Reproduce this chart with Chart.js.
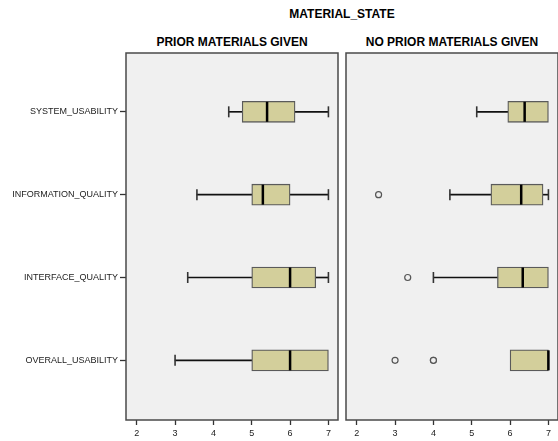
<!DOCTYPE html>
<html>
<head>
<meta charset="utf-8">
<script src="https://cdn.jsdelivr.net/npm/chart.js@4.4.1/dist/chart.umd.min.js"></script>
<style>
  html, body { margin: 0; padding: 0; background: #fff; }
  body { width: 558px; height: 441px; position: relative; overflow: hidden; font-family: "Liberation Sans", Arial, sans-serif; }
  .title { position: absolute; font-weight: bold; font-size: 12px; color: #000; text-align: center; white-space: nowrap; line-height: 14px; }
  #leftWrap { position: absolute; left: 0; top: 0; width: 340px; height: 441px; }
  #rightWrap { position: absolute; left: 340px; top: 0; width: 220px; height: 441px; }
</style>
</head>
<body>
<div class="title" style="left:126px; width:432px; top:7px;">MATERIAL_STATE</div>
<div class="title" style="left:126px; width:212px; top:35px;">PRIOR MATERIALS GIVEN</div>
<div class="title" style="left:346px; width:212px; top:35px;">NO PRIOR MATERIALS GIVEN</div>
<div id="leftWrap"><canvas id="leftChart"></canvas></div>
<div id="rightWrap"><canvas id="rightChart"></canvas></div>
<script>
// ─── Data ─────────────────────────────────────────────────────────────────────
const categories = ['SYSTEM_USABILITY', 'INFORMATION_QUALITY', 'INTERFACE_QUALITY', 'OVERALL_USABILITY'];
const xTicks = [2, 3, 4, 5, 6, 7];

// PRIOR MATERIALS GIVEN
const priorMin = [4.4, 3.57, 3.33, 3.0];
const priorQ1  = [4.75, 5.0, 5.0, 5.0];
const priorMed = [5.4, 5.29, 6.0, 6.0];
const priorQ3  = [6.13, 6.0, 6.67, 7.0];
const priorMax = [7.0, 7.0, 7.0, 7.0];
const priorOutCat = [];
const priorOutVal = [];

// NO PRIOR MATERIALS GIVEN
const noPriorMin = [5.13, 4.43, 4.0, 6.0];
const noPriorQ1  = [5.94, 5.5, 5.67, 6.0];
const noPriorMed = [6.38, 6.29, 6.33, 7.0];
const noPriorQ3  = [7.0, 6.86, 7.0, 7.0];
const noPriorMax = [7.0, 7.0, 7.0, 7.0];
const noPriorOutCat = [1, 2, 3, 3, 3];
const noPriorOutVal = [2.57, 3.33, 3.0, 4.0, 4.0];

// ─── Panel plugin: grey background + frame ────────────────────────────────────
const panelFrame = {
    id: 'panelFrame',
    beforeDraw(chart) {
        const { ctx, chartArea: a } = chart;
        ctx.save();
        ctx.fillStyle = '#f0f0f0';
        ctx.fillRect(a.left, a.top, a.right - a.left, a.bottom - a.top);
        ctx.restore();
    },
    afterDraw(chart) {
        const { ctx, chartArea: a } = chart;
        ctx.save();
        ctx.strokeStyle = '#4a4a4a';
        ctx.lineWidth = 1.5;
        ctx.strokeRect(a.left, a.top, a.right - a.left, a.bottom - a.top);
        ctx.restore();
    }
};

function buildPanel(canvasId, mn, q1, med, q3, mx, outCat, outVal, showLabels) {
    const whiskers = [];
    const caps = [];
    categories.forEach((c, i) => {
        if (mn[i] < q1[i]) { whiskers.push({ x: [mn[i], q1[i]], y: i }); caps.push({ x: mn[i], y: i }); }
        if (mx[i] > q3[i]) { whiskers.push({ x: [q3[i], mx[i]], y: i }); caps.push({ x: mx[i], y: i }); }
    });
    const boxes = categories.map((c, i) => ({ x: [q1[i], q3[i]], y: i }));
    const medians = categories.map((c, i) => ({ x: med[i], y: i }));
    const outliers = outCat.map((c, i) => ({ x: outVal[i], y: c }));

    return new Chart(document.getElementById(canvasId), {
        type: 'bar',
        data: {
            datasets: [
                { type: 'scatter', data: outliers, order: 1, pointStyle: 'circle', radius: 3, borderWidth: 1.2, borderColor: '#555', backgroundColor: '#f0f0f0' },
                { type: 'scatter', data: caps, order: 2, pointStyle: 'line', rotation: 90, radius: 5.5, borderWidth: 1.6, borderColor: '#333' },
                { type: 'scatter', data: medians, order: 3, pointStyle: 'line', rotation: 90, radius: 10, borderWidth: 2.5, borderColor: '#000' },
                { data: boxes, order: 4, grouped: false, barThickness: 21, backgroundColor: '#d3cf9b', borderColor: '#5a5a5a', borderWidth: 1.3, borderSkipped: false },
                { data: whiskers, order: 5, grouped: false, barThickness: 1, backgroundColor: '#111', borderWidth: 0 }
            ]
        },
        plugins: [panelFrame],
        options: {
            indexAxis: 'y',
            responsive: true,
            maintainAspectRatio: false,
            animation: false,
            events: [],
            layout: {
                autoPadding: false,
                padding: showLabels ? { top: 53, right: 2, left: 0, bottom: 0 } : { top: 53, right: 2, left: 6, bottom: 0 }
            },
            plugins: { legend: { display: false }, tooltip: { enabled: false } },
            scales: {
                x: {
                    type: 'linear', position: 'bottom', min: 1.72, max: 7.25,
                    afterBuildTicks: s => { s.ticks = xTicks.map(v => ({ value: v })); },
                    afterFit: s => { s.height = 21; s.paddingLeft = 0; s.paddingRight = 0; },
                    border: { display: false },
                    grid: { drawOnChartArea: false, drawTicks: true, tickLength: 5, tickColor: '#333', tickWidth: 1.3 },
                    ticks: { color: '#222', padding: 3, font: { family: '"Liberation Sans", Arial', size: 9 } }
                },
                y: {
                    type: 'linear', position: 'left', min: -0.71, max: 3.72, reverse: true,
                    offset: false,
                    display: showLabels,
                    afterBuildTicks: s => { s.ticks = categories.map((c, i) => ({ value: i })); },
                    afterFit: s => { s.width = showLabels ? 126 : 0; s.paddingTop = 0; s.paddingBottom = 0; },
                    border: { display: false },
                    grid: { offset: false, drawOnChartArea: false, drawTicks: true, tickLength: 6, tickColor: '#333', tickWidth: 1.3 },
                    ticks: { color: '#222', padding: 2, font: { family: '"Liberation Sans", Arial', size: 9 }, callback: v => categories[v] }
                }
            }
        }
    });
}

buildPanel('leftChart', priorMin, priorQ1, priorMed, priorQ3, priorMax, priorOutCat, priorOutVal, true);
buildPanel('rightChart', noPriorMin, noPriorQ1, noPriorMed, noPriorQ3, noPriorMax, noPriorOutCat, noPriorOutVal, false);
</script>
</body>
</html>
